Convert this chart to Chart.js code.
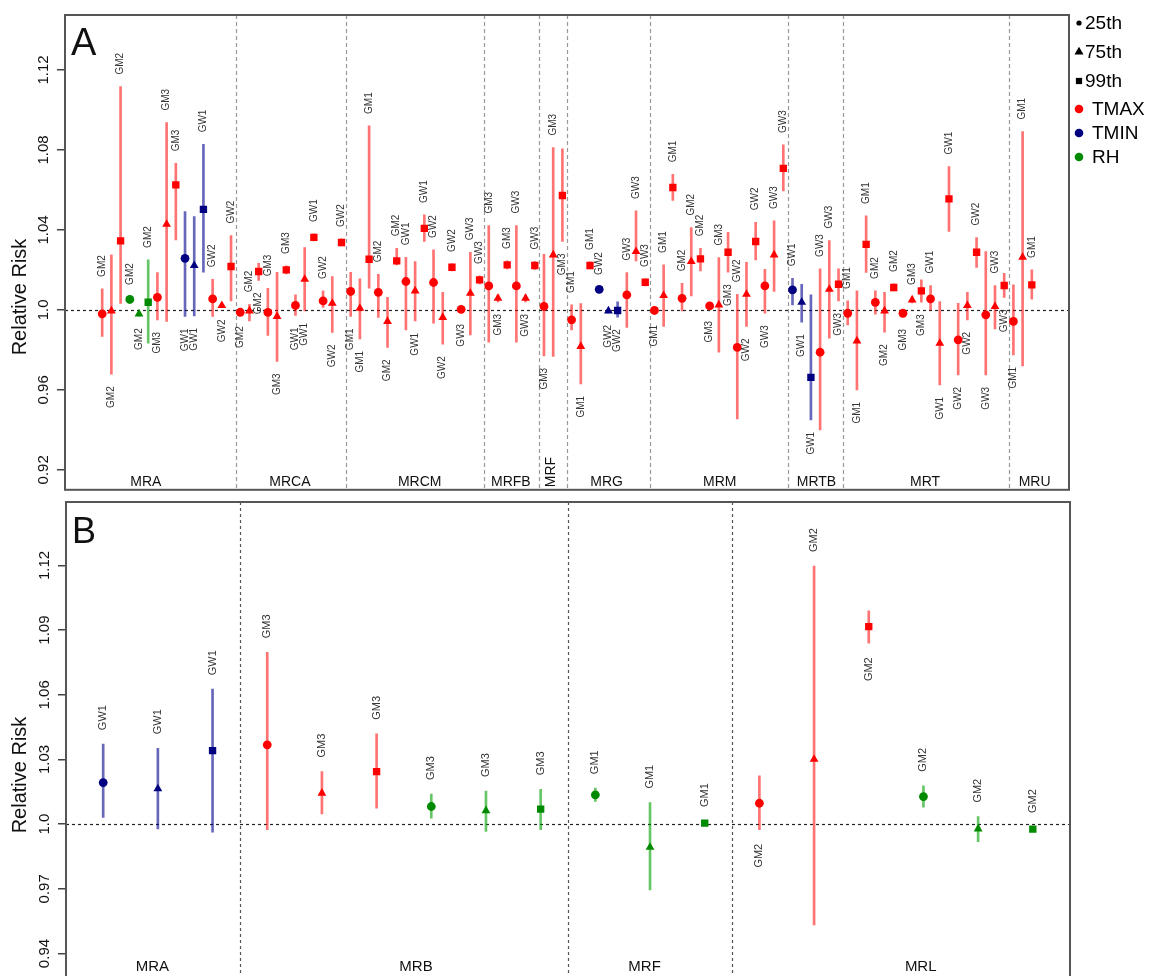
<!DOCTYPE html>
<html>
<head>
<meta charset="utf-8">
<script src="https://cdn.jsdelivr.net/npm/chart.js@4.4.1/dist/chart.umd.min.js"></script>
<style>
  html, body { margin: 0; padding: 0; background: #fff; overflow: hidden; width: 1149px; height: 976px; }
  canvas { position: absolute; left: 0; }
  #chartA { top: 0; }
  #chartB { top: 495px; }
</style>
</head>
<body>
<canvas id="chartA" width="1149" height="495"></canvas>
<canvas id="chartB" width="1149" height="500"></canvas>
<script>
////////////////////////////////////////////////////////////////////////
// Panel A data (one entry per estimate, left to right)
const groupsA = ['MRA', 'MRCA', 'MRCM', 'MRFB', 'MRF', 'MRG', 'MRM', 'MRTB', 'MRT', 'MRU']
const groupSizesA = [15, 12, 15, 6, 3, 9, 15, 6, 18, 3]
const groupPosA = [5.75, 21.4, 35.5, 45.4, 49.8, 55.8, 68.1, 78.6, 90.4, 102.3]

const rrA = [
    0.998, 0.9995, 1.0345, 1.0052, 0.998, 1.0038, 1.0063, 1.0428, 1.0625, 1.0258, 1.0222, 1.0503, 1.0055, 1.0022, 1.0217,
    0.9988, 0.9995, 1.0192, 0.9987, 0.9967, 1.0200, 1.0022, 1.0153, 1.0363, 1.0045, 1.0033, 1.0337,
    1.0092, 1.0008, 1.0253, 1.0088, 0.9942, 1.0245, 1.0142, 1.0095, 1.0408, 1.0137, 0.9962, 1.0213, 1.0003, 1.0083, 1.0150,
    1.0120, 1.0058, 1.0225, 1.0120, 1.0058, 1.0222,
    1.0017, 1.0275, 1.0572,
    0.9950, 0.9817, 1.0222, 1.0103, 0.9995, 0.9997, 1.0075, 1.0292, 1.0138,
    0.9997, 1.0072, 1.0612, 1.0058, 1.0242, 1.0255, 1.0020, 1.0025, 1.0288, 0.9812, 1.0078, 1.0342, 1.0120, 1.0275, 1.0708,
    1.0100, 1.0038, 0.9662, 0.9788, 1.0103, 1.0128,
    0.9983, 0.9845, 1.0328, 1.0038, 0.9995, 1.0112, 0.9983, 1.0050, 1.0095, 1.0055, 0.9833, 1.0555, 0.9850, 1.0022, 1.0288, 0.9975, 1.0017, 1.0122,
    0.9942, 1.0263, 1.0125
]
const loA = [
    0.9867, 0.9678, 1.0032, 1.0040, 0.9968, 0.9833, 0.9950, 0.9942, 1.0350, 0.9967, 0.9970, 1.0188, 0.9967, 1.0012, 1.0045,
    0.9978, 0.9945, 1.0147, 0.9872, 0.9742, 1.0180, 0.9972, 0.9995, 1.0345, 1.0012, 0.9887, 1.0320,
    0.9967, 0.9855, 1.0108, 0.9962, 0.9812, 1.0225, 0.9900, 0.9945, 1.0342, 0.9933, 0.9828, 1.0195, 0.9990, 0.9875, 1.0130,
    0.9838, 1.0040, 1.0205, 0.9838, 1.0040, 1.0202,
    0.9770, 0.9767, 1.0342,
    0.9900, 0.9630, 1.0205, 1.0090, 0.9985, 0.9963, 0.9912, 1.0245, 1.0120,
    0.9985, 0.9917, 1.0547, 0.9995, 1.0070, 1.0195, 1.0005, 0.9788, 1.0188, 0.9455, 0.9917, 1.0250, 0.9983, 1.0092, 1.0595,
    1.0025, 0.9938, 0.9450, 0.9400, 0.9858, 1.0045,
    0.9925, 0.9600, 1.0187, 0.9978, 0.9888, 1.0095, 0.9965, 1.0035, 1.0038, 1.0000, 0.9625, 1.0392, 0.9675, 0.9950, 1.0212, 0.9675, 0.9905, 1.0062,
    0.9775, 0.9720, 1.0053
]
const hiA = [
    1.0105, 1.0275, 1.1117, 1.0065, 0.9992, 1.0250, 1.0187, 1.0937, 1.0733, 1.0492, 1.0467, 1.0828, 1.0153, 1.0032, 1.0372,
    0.9998, 1.0028, 1.0233, 1.0108, 1.0188, 1.0220, 1.0075, 1.0312, 1.0380, 1.0095, 1.0167, 1.0355,
    1.0188, 1.0155, 1.0920, 1.0178, 1.0063, 1.0308, 1.0263, 1.0242, 1.0475, 1.0300, 1.0088, 1.0230, 1.0015, 1.0288, 1.0170,
    1.0422, 1.0075, 1.0245, 1.0422, 1.0075, 1.0242,
    1.0278, 1.0812, 1.0805,
    1.0025, 1.0032, 1.0240, 1.0115, 1.0005, 1.0040, 1.0187, 1.0495, 1.0155,
    1.0010, 1.0225, 1.0678, 1.0133, 1.0412, 1.0308, 1.0035, 1.0262, 1.0388, 1.0078, 1.0238, 1.0438, 1.0203, 1.0445, 1.0825,
    1.0158, 1.0128, 1.0075, 1.0205, 1.0347, 1.0205,
    1.0045, 1.0095, 1.0470, 1.0095, 1.0088, 1.0130, 1.0003, 1.0065, 1.0150, 1.0122, 1.0042, 1.0717, 1.0033, 1.0088, 1.0362, 1.0292, 1.0122, 1.0183,
    1.0125, 1.0892, 1.0200
]
const varA = [
    'TMAX', 'TMAX', 'TMAX', 'RH', 'RH', 'RH', 'TMAX', 'TMAX', 'TMAX', 'TMIN', 'TMIN', 'TMIN', 'TMAX', 'TMAX', 'TMAX',
    'TMAX', 'TMAX', 'TMAX', 'TMAX', 'TMAX', 'TMAX', 'TMAX', 'TMAX', 'TMAX', 'TMAX', 'TMAX', 'TMAX',
    'TMAX', 'TMAX', 'TMAX', 'TMAX', 'TMAX', 'TMAX', 'TMAX', 'TMAX', 'TMAX', 'TMAX', 'TMAX', 'TMAX', 'TMAX', 'TMAX', 'TMAX',
    'TMAX', 'TMAX', 'TMAX', 'TMAX', 'TMAX', 'TMAX',
    'TMAX', 'TMAX', 'TMAX',
    'TMAX', 'TMAX', 'TMAX', 'TMIN', 'TMIN', 'TMIN', 'TMAX', 'TMAX', 'TMAX',
    'TMAX', 'TMAX', 'TMAX', 'TMAX', 'TMAX', 'TMAX', 'TMAX', 'TMAX', 'TMAX', 'TMAX', 'TMAX', 'TMAX', 'TMAX', 'TMAX', 'TMAX',
    'TMIN', 'TMIN', 'TMIN', 'TMAX', 'TMAX', 'TMAX',
    'TMAX', 'TMAX', 'TMAX', 'TMAX', 'TMAX', 'TMAX', 'TMAX', 'TMAX', 'TMAX', 'TMAX', 'TMAX', 'TMAX', 'TMAX', 'TMAX', 'TMAX', 'TMAX', 'TMAX', 'TMAX',
    'TMAX', 'TMAX', 'TMAX'
]
const pctA = [
    '25th', '75th', '99th', '25th', '75th', '99th', '25th', '75th', '99th', '25th', '75th', '99th', '25th', '75th', '99th',
    '25th', '75th', '99th', '25th', '75th', '99th', '25th', '75th', '99th', '25th', '75th', '99th',
    '25th', '75th', '99th', '25th', '75th', '99th', '25th', '75th', '99th', '25th', '75th', '99th', '25th', '75th', '99th',
    '25th', '75th', '99th', '25th', '75th', '99th',
    '25th', '75th', '99th',
    '25th', '75th', '99th', '25th', '75th', '99th', '25th', '75th', '99th',
    '25th', '75th', '99th', '25th', '75th', '99th', '25th', '75th', '99th', '25th', '75th', '99th', '25th', '75th', '99th',
    '25th', '75th', '99th', '25th', '75th', '99th',
    '25th', '75th', '99th', '25th', '75th', '99th', '25th', '75th', '99th', '25th', '75th', '99th', '25th', '75th', '99th', '25th', '75th', '99th',
    '25th', '75th', '99th'
]
const tagA = [
    'GM2', 'GM2', 'GM2', 'GM2', 'GM2', 'GM2', 'GM3', 'GM3', 'GM3', 'GW1', 'GW1', 'GW1', 'GW2', 'GW2', 'GW2',
    'GM2', 'GM2', 'GM2', 'GM3', 'GM3', 'GM3', 'GW1', 'GW1', 'GW1', 'GW2', 'GW2', 'GW2',
    'GM1', 'GM1', 'GM1', 'GM2', 'GM2', 'GM2', 'GW1', 'GW1', 'GW1', 'GW2', 'GW2', 'GW2', 'GW3', 'GW3', 'GW3',
    'GM3', 'GM3', 'GM3', 'GW3', 'GW3', 'GW3',
    'GM3', 'GM3', 'GM3',
    'GM1', 'GM1', 'GM1', 'GW2', 'GW2', 'GW2', 'GW3', 'GW3', 'GW3',
    'GM1', 'GM1', 'GM1', 'GM2', 'GM2', 'GM2', 'GM3', 'GM3', 'GM3', 'GW2', 'GW2', 'GW2', 'GW3', 'GW3', 'GW3',
    'GW1', 'GW1', 'GW1', 'GW3', 'GW3', 'GW3',
    'GM1', 'GM1', 'GM1', 'GM2', 'GM2', 'GM2', 'GM3', 'GM3', 'GM3', 'GW1', 'GW1', 'GW1', 'GW2', 'GW2', 'GW2', 'GW3', 'GW3', 'GW3',
    'GM1', 'GM1', 'GM1'
]
// 1 = tag above the interval, -1 = tag below it
const sideA = [
    1, -1, 1, 1, -1, 1, -1, 1, 1, -1, -1, 1, 1, -1, 1,
    -1, 1, -1, 1, -1, 1, -1, -1, 1, 1, -1, 1,
    -1, -1, 1, 1, -1, 1, 1, -1, 1, 1, -1, 1, -1, 1, 1,
    1, -1, 1, 1, -1, 1,
    -1, 1, -1,
    1, -1, 1, 1, -1, -1, 1, 1, 1,
    -1, 1, 1, 1, 1, 1, -1, 1, -1, 1, -1, 1, -1, 1, 1,
    1, -1, -1, 1, 1, -1,
    1, -1, 1, 1, -1, 1, -1, 1, -1, 1, -1, 1, -1, -1, 1, -1, 1, -1,
    -1, 1, 1
]
const yTicksA = [0.92, 0.96, 1.0, 1.04, 1.08, 1.12]
const yTickLabelsA = ['0.92', '0.96', '1.0', '1.04', '1.08', '1.12']

////////////////////////////////////////////////////////////////////////
// Panel B data
const groupsB = ['MRA', 'MRB', 'MRF', 'MRL']
const groupSizesB = [3, 6, 3, 6]
const groupPosB = [1.9, 6.72, 10.9, 15.95]

const rrB = [1.0193, 1.0164, 1.0341, 1.0368, 1.0144, 1.0244, 1.0082, 1.0063, 1.0070, 1.0136, 0.9893, 1.0005, 1.0097, 1.0301, 1.0916, 1.0128, 0.9978, 0.9977]
const loB = [1.0031, 0.9978, 0.9963, 0.9974, 1.0048, 1.0074, 1.0028, 0.9966, 0.9974, 1.0105, 0.9695, 0.9995, 0.9974, 0.9533, 1.0839, 1.0079, 0.9919, 0.9967]
const hiB = [1.0371, 1.0352, 1.0626, 1.0797, 1.0244, 1.0419, 1.0140, 1.0154, 1.0162, 1.0167, 1.0100, 1.0015, 1.0224, 1.1197, 1.0990, 1.0178, 1.0035, 0.9987]
const varB = ['TMIN', 'TMIN', 'TMIN', 'TMAX', 'TMAX', 'TMAX', 'RH', 'RH', 'RH', 'RH', 'RH', 'RH', 'TMAX', 'TMAX', 'TMAX', 'RH', 'RH', 'RH']
const pctB = ['25th', '75th', '99th', '25th', '75th', '99th', '25th', '75th', '99th', '25th', '75th', '99th', '25th', '75th', '99th', '25th', '75th', '99th']
const tagB = ['GW1', 'GW1', 'GW1', 'GM3', 'GM3', 'GM3', 'GM3', 'GM3', 'GM3', 'GM1', 'GM1', 'GM1', 'GM2', 'GM2', 'GM2', 'GM2', 'GM2', 'GM2']
const sideB = [1, 1, 1, 1, 1, 1, 1, 1, 1, 1, 1, 1, -1, 1, -1, 1, 1, 1]
const yTicksB = [0.94, 0.97, 1.0, 1.03, 1.06, 1.09, 1.12]
const yTickLabelsB = ['0.94', '0.97', '1.0', '1.03', '1.06', '1.09', '1.12']

// Legend entries
const legendPct = ['25th', '75th', '99th']
const legendVars = ['TMAX', 'TMIN', 'RH']

////////////////////////////////////////////////////////////////////////
// Styles
const FONT = '"Liberation Sans", Arial, Helvetica, sans-serif'

const COLORS = {
    TMAX: { point: '#ff0000', ci: 'rgba(255, 0, 0, 0.55)' },
    TMIN: { point: '#000080', ci: 'rgba(0, 0, 140, 0.6)' },
    RH: { point: '#008a00', ci: 'rgba(0, 160, 0, 0.6)' }
}

const SHAPES = {
    '25th': { style: 'circle', r: 4.4 },
    '75th': { style: 'triangle', r: 5.1 },
    '99th': { style: 'rect', r: 5.2 }
}

/**
 * Draws text rotated to read bottom-to-top.
 */
function upText(ctx, text, x, y, align) {
    ctx.save()
    ctx.translate(x, y)
    ctx.rotate(-Math.PI / 2)
    ctx.textAlign = align
    ctx.fillText(text, 0, 0)
    ctx.restore()
}

/**
 * Draws a legend marker.
 */
function marker(ctx, style, x, y, r) {
    ctx.beginPath()
    if (style === 'circle') {
        ctx.arc(x, y, r, 0, Math.PI * 2)
    } else if (style === 'triangle') {
        ctx.moveTo(x, y - r)
        ctx.lineTo(x + r * 0.866, y + r * 0.5)
        ctx.lineTo(x - r * 0.866, y + r * 0.5)
        ctx.closePath()
    } else {
        ctx.rect(x - r * 0.707, y - r * 0.707, r * 1.414, r * 1.414)
    }
    ctx.fill()
}

/**
 * Separators, reference line, tags, axis text, box and legend.
 */
function decor(p) {
    return {
        id: 'decor' + p.letter,
        beforeDatasetsDraw(chart) {
            const { ctx, chartArea: a, scales: { x, y } } = chart
            ctx.save()
            ctx.strokeStyle = p.sepColor
            ctx.lineWidth = 1.2
            ctx.setLineDash(p.sepDash)
            let end = 0
            p.groupSizes.slice(0, -1).forEach(size => {
                end += size
                const px = Math.round(x.getPixelForValue(end + 0.5)) + 0.5
                ctx.beginPath()
                ctx.moveTo(px, a.top)
                ctx.lineTo(px, a.bottom)
                ctx.stroke()
            })
            const py = Math.round(y.getPixelForValue(1)) + 0.5
            ctx.strokeStyle = '#222'
            ctx.setLineDash([3, 3])
            ctx.beginPath()
            ctx.moveTo(a.left, py)
            ctx.lineTo(a.right, py)
            ctx.stroke()
            ctx.restore()
        },
        afterDatasetsDraw(chart) {
            const { ctx, chartArea: a, scales: { x, y } } = chart
            ctx.save()

            // tags next to each interval
            ctx.font = p.tagSize + 'px ' + FONT
            ctx.fillStyle = '#333'
            ctx.textBaseline = 'middle'
            p.tags.forEach((tag, i) => {
                const up = p.sides[i] > 0
                const px = x.getPixelForValue(i + 1)
                const py = up ? y.getPixelForValue(p.hi[i]) - p.tagGap : y.getPixelForValue(p.lo[i]) + p.tagGap
                upText(ctx, tag, px, py, up ? 'left' : 'right')
            })

            // group names
            ctx.font = p.groupFont + 'px ' + FONT
            ctx.fillStyle = '#111'
            ctx.textAlign = 'center'
            p.groups.forEach((g, k) => {
                const px = x.getPixelForValue(p.groupPos[k])
                if (p.verticalGroups.includes(g)) {
                    upText(ctx, g, px, p.groupY - 10, 'center')
                } else {
                    ctx.fillText(g, px, p.groupY)
                }
            })

            // frame
            ctx.strokeStyle = '#555'
            ctx.lineWidth = 2
            ctx.strokeRect(a.left, a.top, a.right - a.left, a.bottom - a.top)

            // y tick labels and title
            ctx.fillStyle = '#111'
            ctx.font = '15px ' + FONT
            p.yTicks.forEach((v, k) => {
                upText(ctx, p.yTickLabels[k], a.left - 21, y.getPixelForValue(v), 'center')
            })
            ctx.font = '20px ' + FONT
            upText(ctx, 'Relative Risk', 20, p.titleY, 'center')

            // panel letter
            ctx.textAlign = 'left'
            ctx.textBaseline = 'alphabetic'
            ctx.font = p.letterSize + 'px ' + FONT
            ctx.fillText(p.letter, a.left + 6, a.top + p.letterDy)

            // legend
            if (p.legend) {
                ctx.font = '19px ' + FONT
                ctx.textBaseline = 'middle'
                ctx.fillStyle = '#000'
                const lx = a.right + 10
                const pctR = [2.6, 5.2, 4.4]
                legendPct.forEach((k, i) => {
                    const ly = 23 + i * 29
                    ctx.fillStyle = '#000'
                    marker(ctx, SHAPES[k].style, lx, ly, pctR[i])
                    ctx.fillText(k, lx + 6, ly + 1)
                })
                legendVars.forEach((v, i) => {
                    const ly = 109 + i * 24
                    ctx.fillStyle = COLORS[v].point
                    marker(ctx, 'circle', lx, ly, 4.3)
                    ctx.fillStyle = '#000'
                    ctx.fillText(v, lx + 13, ly + 1)
                })
            }
            ctx.restore()
        }
    }
}

/**
 * Builds one panel.
 */
function makePanel(canvasId, p) {
    const xs = p.rr.map((_, i) => i + 1)
    return new Chart(document.getElementById(canvasId), {
        type: 'bar',
        data: {
            datasets: [
                {
                    type: 'scatter',
                    data: xs.map((x, i) => ({ x: x, y: p.rr[i] })),
                    pointStyle: p.pct.map(k => SHAPES[k].style),
                    pointRadius: p.pct.map(k => SHAPES[k].r),
                    pointBackgroundColor: p.vars.map(v => COLORS[v].point),
                    pointBorderColor: p.vars.map(v => COLORS[v].point),
                    pointBorderWidth: 0,
                    order: 0
                },
                {
                    type: 'bar',
                    data: xs.map((x, i) => ({ x: x, y: [p.lo[i], p.hi[i]] })),
                    backgroundColor: p.vars.map(v => COLORS[v].ci),
                    borderWidth: 0,
                    barThickness: 2,
                    grouped: false,
                    order: 1
                }
            ]
        },
        options: {
            responsive: false,
            animation: false,
            devicePixelRatio: 1,
            events: [],
            layout: { padding: { left: 0, right: p.padRight, top: p.padTop, bottom: p.padBottom } },
            plugins: { legend: { display: false }, tooltip: { enabled: false } },
            scales: {
                x: { type: 'linear', min: p.xMin, max: p.xMax, offset: false, display: false },
                y: {
                    type: 'linear',
                    position: 'left',
                    min: p.yMin,
                    max: p.yMax,
                    afterBuildTicks: s => { s.ticks = p.yTicks.map(v => ({ value: v })) },
                    afterFit: s => { s.width = p.left },
                    ticks: { display: false },
                    grid: { drawOnChartArea: false, drawTicks: true, tickLength: 8, color: '#444', lineWidth: 1.5 },
                    border: { display: false }
                }
            }
        },
        plugins: [decor(p)]
    })
}

makePanel('chartA', {
    letter: 'A', letterSize: 38, letterDy: 40, legend: true,
    rr: rrA, lo: loA, hi: hiA, vars: varA, pct: pctA, tags: tagA, sides: sideA,
    groups: groupsA, groupSizes: groupSizesA, groupPos: groupPosA, verticalGroups: ['MRF'],
    yTicks: yTicksA, yTickLabels: yTickLabelsA,
    xMin: -3.04, xMax: 106.04, yMin: 0.91, yMax: 1.1475,
    left: 65, padRight: 80, padTop: 15, padBottom: 5,
    sepColor: '#999', sepDash: [4, 3], tagSize: 10, tagGap: 12,
    groupFont: 14, groupY: 482, titleY: 297
})

makePanel('chartB', {
    letter: 'B', letterSize: 36, letterDy: 41, legend: false,
    rr: rrB, lo: loB, hi: hiB, vars: varB, pct: pctB, tags: tagB, sides: sideB,
    groups: groupsB, groupSizes: groupSizesB, groupPos: groupPosB, verticalGroups: [],
    yTicks: yTicksB, yTickLabels: yTickLabelsB,
    xMin: 0.32, xMax: 18.68, yMin: 0.92318, yMax: 1.14942,
    left: 66, padRight: 79, padTop: 7, padBottom: 5,
    sepColor: '#555', sepDash: [3, 3], tagSize: 11, tagGap: 14,
    groupFont: 15, groupY: 472, titleY: 280
})
</script>
</body>
</html>
